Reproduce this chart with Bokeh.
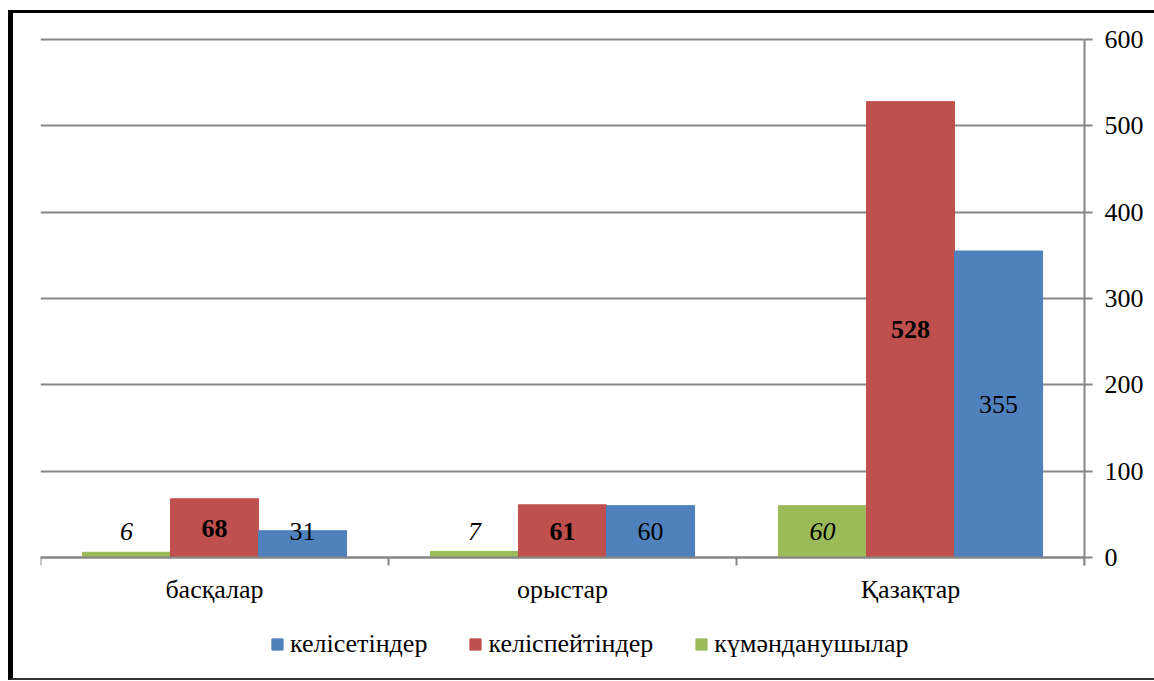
from bokeh.plotting import figure
from bokeh.models import (ColumnDataSource, LinearAxis, FixedTicker, Range1d, Legend,
                          LegendItem, Grid, InlineStyleSheet)
from bokeh.core.properties import value
from bokeh.embed import file_html
from bokeh.resources import INLINE

# Survey answers by group
categories = ["басқалар", "орыстар", "Қазақтар"]
agree = [31, 60, 355]        # келісетіндер
disagree = [68, 61, 528]     # келіспейтіндер
doubtful = [6, 7, 60]        # күмәнданушылар
series_names = ["келісетіндер", "келіспейтіндер", "күмәнданушылар"]
y_ticks = [0, 100, 200, 300, 400, 500, 600]

FONT = "Liberation Serif"
FS = "26px"
GREY = "#868686"
BLUE, RED, GREEN = "#4F81BD", "#C0504D", "#9BBB59"
BAR_W = 0.253

# the frame reaches below zero so the legend can sit under the category labels
p = figure(width=1154, height=681, x_range=Range1d(0, 3), y_range=Range1d(-136.7, 602.3),
           output_backend="svg", toolbar_location=None,
           x_axis_location=None, y_axis_location=None,
           min_border_left=40, min_border_right=70, min_border_top=37,
           min_border_bottom=6)
p.outline_line_color = None
p.background_fill_color = "white"
p.border_fill_color = "white"
p.center = []

# value axis on the right
yaxis = LinearAxis(ticker=FixedTicker(ticks=y_ticks), bounds=(-9, 600),
                   axis_line_color=GREY, axis_line_width=2,
                   major_tick_line_color=GREY, major_tick_line_width=2,
                   major_tick_out=8, major_tick_in=0,
                   minor_tick_line_color=None,
                   major_label_text_font=FONT, major_label_text_font_size=FS,
                   major_label_text_color="black", major_label_standoff=12)
p.add_layout(yaxis, "right")
p.add_layout(Grid(dimension=1, ticker=yaxis.ticker, grid_line_color=GREY,
                  grid_line_width=2))

# category axis at zero: labels at group centres, ticks at group boundaries
centers = [i + 0.5 for i in range(len(categories))]
bounds = [float(i) for i in range(len(categories) + 1)]
xaxis = LinearAxis(ticker=FixedTicker(ticks=centers, minor_ticks=bounds),
                   fixed_location=0,
                   major_label_overrides={c: name for c, name in zip(centers, categories)},
                   axis_line_color=GREY, axis_line_width=2,
                   major_tick_line_color=None, major_tick_out=0, major_tick_in=0,
                   minor_tick_line_color=GREY, minor_tick_line_width=2,
                   minor_tick_out=8, minor_tick_in=0,
                   major_label_text_font=FONT, major_label_text_font_size=FS,
                   major_label_text_color="black", major_label_standoff=10)
p.add_layout(xaxis, "below")

series = [
    (doubtful, GREEN, -BAR_W, "italic"),
    (disagree, RED, 0.0, "bold"),
    (agree, BLUE, BAR_W, "normal"),
]
renderers = {}
for vals, color, offset, style in series:
    src = ColumnDataSource(dict(
        x=[c + offset for c in centers],
        top=vals,
        label_y=[max(v / 2, 30) for v in vals],
        label=[str(v) for v in vals],
    ))
    r = p.vbar(x="x", top="top", bottom=0, width=BAR_W, source=src,
               fill_color=color, line_color=color, line_width=1)
    renderers[color] = r
    p.text(x="x", y="label_y", text="label", source=src,
           text_font=value(FONT), text_font_size=FS, text_font_style=style,
           text_color="black", text_align="center", text_baseline="middle")

legend = Legend(items=[
    LegendItem(label=series_names[0], renderers=[renderers[BLUE]]),
    LegendItem(label=series_names[1], renderers=[renderers[RED]]),
    LegendItem(label=series_names[2], renderers=[renderers[GREEN]]),
], orientation="horizontal", location=(230, 16),
    glyph_width=14, glyph_height=14, label_standoff=6, spacing=41,
    padding=0, margin=0, border_line_color=None, background_fill_alpha=0,
    label_text_font=FONT, label_text_font_size=FS, label_text_color="black")
p.add_layout(legend, "center")

# outer frame around the whole chart
p.stylesheets = [InlineStyleSheet(css="""
:host { position: relative; }
:host::after {
  content: ""; position: absolute; pointer-events: none;
  left: 8px; top: 10px; right: 0px; bottom: 1px;
  border-left: 5px solid #000; border-top: 3px solid #000;
  border-bottom: 2px solid #333;
}
""")]

open("out.html", "w").write(file_html(p, INLINE))
